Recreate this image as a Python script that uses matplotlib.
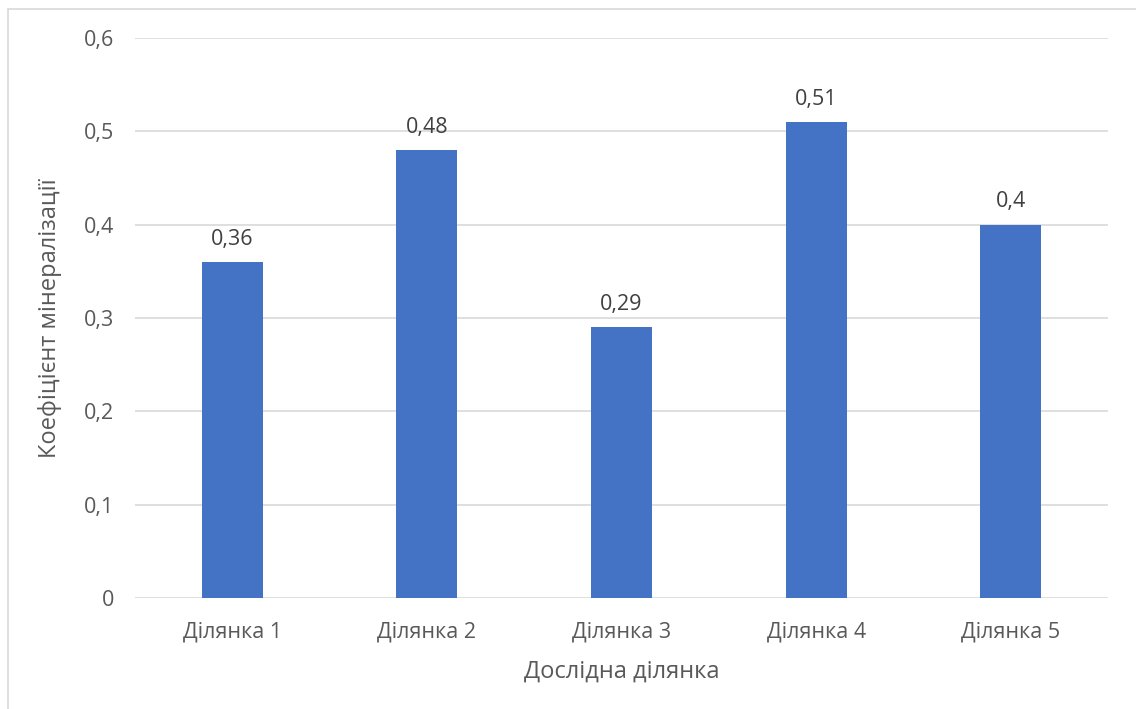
import matplotlib
matplotlib.use("Agg")
import matplotlib.pyplot as plt
from matplotlib.patches import Rectangle

categories = ["Ділянка 1", "Ділянка 2", "Ділянка 3", "Ділянка 4", "Ділянка 5"]
values = [0.36, 0.48, 0.29, 0.51, 0.40]
value_labels = ["0,36", "0,48", "0,29", "0,51", "0,4"]
yticks = [0, 0.1, 0.2, 0.3, 0.4, 0.5, 0.6]
ytick_labels = ["0", "0,1", "0,2", "0,3", "0,4", "0,5", "0,6"]

plt.rcParams['font.family'] = ['Open Sans', 'DejaVu Sans']

fig = plt.figure(figsize=(11.36, 7.09), dpi=100)
ax = fig.add_axes([135/1136, 1-598/709, (1108-135)/1136, (598-38)/709])

x = list(range(len(categories)))
bars = ax.bar(x, values, width=0.313, color="#4472C4", zorder=3)
ax.set_xlim(-0.5, len(categories)-0.5)
ax.set_ylim(0, 0.6)
ax.set_yticks(yticks)
ax.set_yticklabels(ytick_labels)
ax.set_xticks(x)
ax.set_xticklabels(categories)
ax.tick_params(axis='both', length=0, labelsize=15.5, colors="#595959")
ax.tick_params(axis='y', pad=15)
ax.tick_params(axis='x', pad=17)
ax.grid(axis='y', color="#D9D9D9", linewidth=1.2, zorder=0)
for s in ax.spines.values():
    s.set_visible(False)

for xi, v, lab in zip(x, values, value_labels):
    ax.annotate(lab, (xi, v), xytext=(0, 9), textcoords="offset points",
                ha='center', va='bottom', fontsize=15.5, color="#404040")

ax.set_xlabel("Дослідна ділянка", fontsize=17, color="#595959", labelpad=12)
ax.set_ylabel("Коефіцієнт мінералізації", fontsize=17, color="#595959", labelpad=16)

fig.patches.append(Rectangle((8/1136, -0.1), 1.2, (709-9)/709 + 0.1, transform=fig.transFigure,
                             fill=False, edgecolor="#D9D9D9", linewidth=1.2))

fig.savefig("out.png", dpi=100)
